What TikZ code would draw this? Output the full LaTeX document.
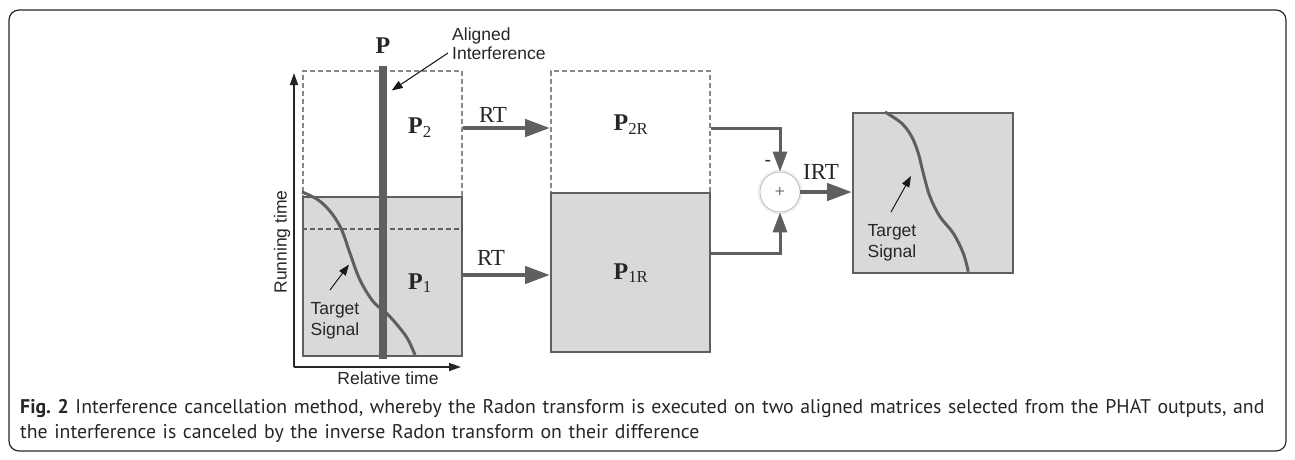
\documentclass[tikz,border=0pt]{standalone}
\usepackage{fontspec}
\setmainfont{Liberation Serif}
\setsansfont{Liberation Sans}
\newfontfamily\capfont{PT Sans}
\usetikzlibrary{arrows.meta,shadows}
\definecolor{lineg}{RGB}{95,95,95}
\definecolor{fillg}{RGB}{217,217,217}
\definecolor{dashg}{RGB}{135,135,135}
\tikzset{
  gbox/.style={draw=lineg, line width=2pt, fill=fillg, inner sep=0pt, anchor=north west},
  dbox/.style={draw=dashg, line width=1.5pt, dash pattern=on 5pt off 3pt, inner sep=0pt, anchor=north west},
  bigarrow/.style={draw=lineg, line width=4.5pt, -{Triangle[length=25pt,width=17pt]}},
  midarrow/.style={draw=lineg, line width=3pt, -{Triangle[length=20pt,width=14pt]}},
  axisarrow/.style={draw=black!85, line width=1.5pt, -{Triangle[length=12pt,width=8pt]}},
  ptrarrow/.style={draw=black!90, line width=1pt, -{Triangle[length=11pt,width=8pt]}},
  sig/.style={draw=lineg, line width=3pt},
  lbl/.style={font=\fontsize{17.5}{20}\sffamily, text=black!85, inner sep=0pt},
  serl/.style={font=\fontsize{23}{26}\selectfont, text=black!85, inner sep=0pt},
  matl/.style={font=\fontsize{24}{26}\selectfont, text=black!85, inner sep=0pt},
}
\begin{document}
\begin{tikzpicture}[x=1pt,y=-1pt]
\useasboundingbox (0,0) rectangle (1295,459);
\draw[rounded corners=10pt, line width=1.2pt, black!85] (9,10) rectangle (1286,451);

% left block
\node[dbox, minimum width=159pt, minimum height=126pt] (p2box) at (302,70) {};
\node[gbox, minimum width=159pt, minimum height=159pt] (p1box) at (302,196) {};
\draw[draw=lineg, line width=1.5pt, dash pattern=on 5pt off 3pt] (p1box.west |- 0,229) -- (p1box.east |- 0,229);
\draw[sig] plot[smooth, tension=0.6] coordinates {(302,192) (318.3,200) (331.7,213.3) (341.7,230) (350,253.3) (360,280) (373.3,301.7) (386.7,313.3) (400,328.3) (408.3,340) (415,355)};
\node[fill=lineg, minimum width=8pt, minimum height=293pt, inner sep=0pt, anchor=north] (bar) at (382.5,66) {};
\node[matl] (plab) at (383,46) {\bfseries P};

\node[lbl, align=left, anchor=west, font=\fontsize{17.5}{19}\sffamily] (ai) at (452,44) {Aligned\\Interference};
\coordinate (aitail) at (448,53);
\coordinate (aihead) at (391.7,90.5);
\draw[ptrarrow] (aitail) -- (aihead);

\coordinate (origin) at (294,367);
\coordinate (ytip) at (294,73);
\coordinate (xtip) at (461,367);
\draw[axisarrow] (origin) -- (ytip);
\draw[axisarrow] (origin) -- (xtip);
\node[lbl, rotate=90] (runt) at (282,242) {Running time};
\node[lbl] (relt) at (388,378) {Relative time};

\node[lbl, align=center, font=\fontsize{17.5}{21}\sffamily] (ts1) at (335,321) {Target\\Signal};
\coordinate (ts1tail) at (330,290);
\coordinate (ts1head) at (349,264.5);
\draw[ptrarrow] (ts1tail) -- (ts1head);

\node[matl] (p2lab) at (420,128) {\bfseries P\textsubscript{\mdseries 2}};
\node[matl] (p1lab) at (420,283) {\bfseries P\textsubscript{\mdseries 1}};

% middle block
\node[dbox, minimum width=159pt, minimum height=122pt] (p2rbox) at (550,70) {};
\node[gbox, minimum width=159pt, minimum height=159pt] (p1rbox) at (550,192) {};
\node[matl] (p2rlab) at (631,125) {\bfseries P\textsubscript{\mdseries 2R}};
\node[matl] (p1rlab) at (631,273) {\bfseries P\textsubscript{\mdseries 1R}};

\draw[bigarrow] (p2box.east |- 0,128) -- (p2rbox.west |- 0,128);
\draw[bigarrow] (p1box.east |- 0,275) -- (p1rbox.west |- 0,275);
\node[serl] (rt1) at (493,115) {RT};
\node[serl] (rt2) at (491,258) {RT};

% sum
\node[circle, draw=black!30, line width=0.6pt, fill=white, minimum size=40pt, inner sep=0pt,
      drop shadow={opacity=0.15, shadow xshift=0pt, shadow yshift=0pt, shadow scale=1.12}] (sum) at (780,192) {};
\node[font=\fontsize{18}{20}\selectfont, text=black!70] (plus) at (sum.center) {+};
\draw[midarrow] (p2rbox.east |- 0,128) -| (sum.north);
\draw[midarrow] (p1rbox.east |- 0,253) -| (sum.south);
\node[font=\fontsize{20}{20}\sffamily, text=black!80, inner sep=0pt] (minus) at (768,163) {-};

% output
\node[gbox, minimum width=160pt, minimum height=160pt] (outbox) at (852,112) {};
\draw[bigarrow] (sum.east) -- (outbox.west |- sum.east);
\node[serl] (irt) at (821,172) {IRT};
\draw[sig] plot[smooth, tension=0.6] coordinates {(885,112) (901.7,123.3) (911.7,136.7) (918.3,153.3) (923.3,173.3) (930,196.7) (940,216.7) (953.3,233.3) (963.3,253.3) (968.3,271.7)};
\node[lbl, align=center, font=\fontsize{17.5}{21}\sffamily] (ts2) at (892,243) {Target\\Signal};
\coordinate (ts2tail) at (891,212);
\coordinate (ts2head) at (911,176);
\draw[ptrarrow] (ts2tail) -- (ts2head);

% caption
\node[anchor=north west, align=left, inner sep=0pt, text width=1258pt,
      font=\capfont\fontsize{19.8}{25}\selectfont, text=black!85] (cap) at (20,399)
  {{\bfseries Fig.\ 2} Interference cancellation method, whereby the Radon transform is executed on two aligned matrices selected from the PHAT outputs, and the interference is canceled by the inverse Radon transform on their difference};
\end{tikzpicture}
\end{document}
